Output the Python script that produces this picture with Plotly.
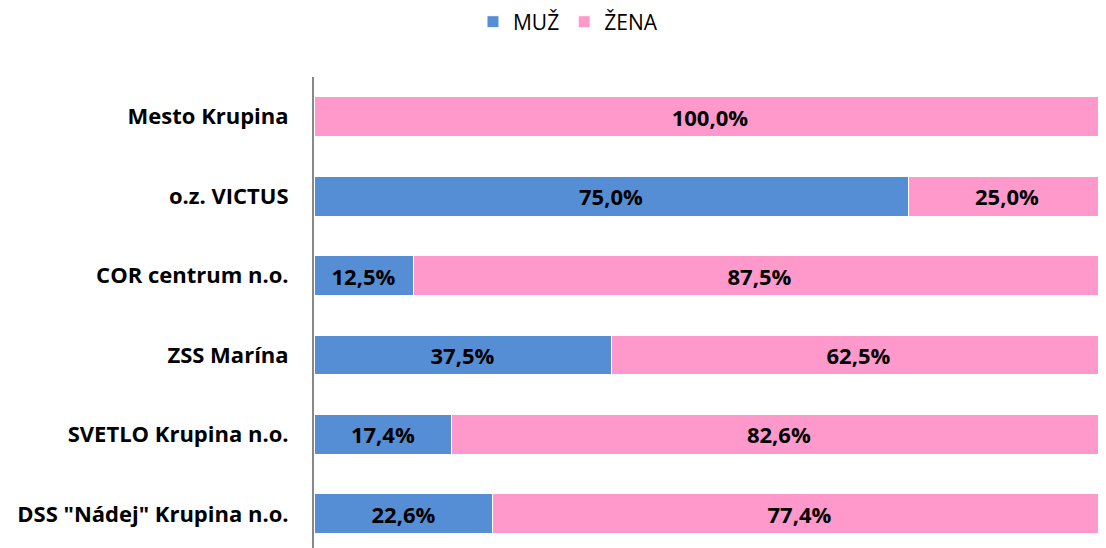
import plotly.graph_objects as go

categories = ['DSS "Nádej" Krupina n.o.', "SVETLO Krupina n.o.", "ZSS Marína",
              "COR centrum n.o.", "o.z. VICTUS", "Mesto Krupina"]
muz = [22.6, 17.4, 37.5, 12.5, 75.0, 0.0]
zena = [77.4, 82.6, 62.5, 87.5, 25.0, 100.0]
series_names = ["MUŽ", "ŽENA"]
colors = ["#558ED5", "#FF99CC"]

def fmt(v):
    return "" if v == 0 else f"{v:.1f}".replace(".", ",") + "%"

FONT = "Open Sans"
fig = go.Figure()
for name, vals, col in zip(series_names, [muz, zena], colors):
    fig.add_trace(go.Bar(
        y=categories, x=vals, name=name, orientation="h",
        marker=dict(color=col, line=dict(color="white", width=1)),
        text=[fmt(v) for v in vals], textposition="inside",
        insidetextanchor="middle",
        textfont=dict(family=FONT, size=22, color="black", weight="bold"),
        hoverinfo="skip",
    ))

# page body has an 8px default margin, so the figure is made 8px smaller
fig.update_layout(
    barmode="stack", bargap=0.5,
    width=1098, height=540,
    margin=dict(l=306, r=0, t=69, b=0, autoexpand=False),
    paper_bgcolor="white", plot_bgcolor="white",
    font=dict(family=FONT, color="black"),
    uniformtext=dict(mode="show", minsize=10),
    legend=dict(orientation="h", x=0.51, xanchor="center", y=0.974, yanchor="middle",
                yref="container", xref="container",
                font=dict(family=FONT, size=21, color="black"),
                itemwidth=30, traceorder="normal"),
    showlegend=True,
)
fig.update_xaxes(range=[0, 100], showgrid=False, showticklabels=False, zeroline=False,
                 showline=False, automargin=False)
fig.update_yaxes(range=[-0.43, 5.5], showgrid=False, showline=True, linecolor="#888888",
                 linewidth=2, ticks="", ticklabelstandoff=19, automargin=False,
                 tickfont=dict(family=FONT, size=22, color="black", weight="bold"))
fig.write_html("out.html")
